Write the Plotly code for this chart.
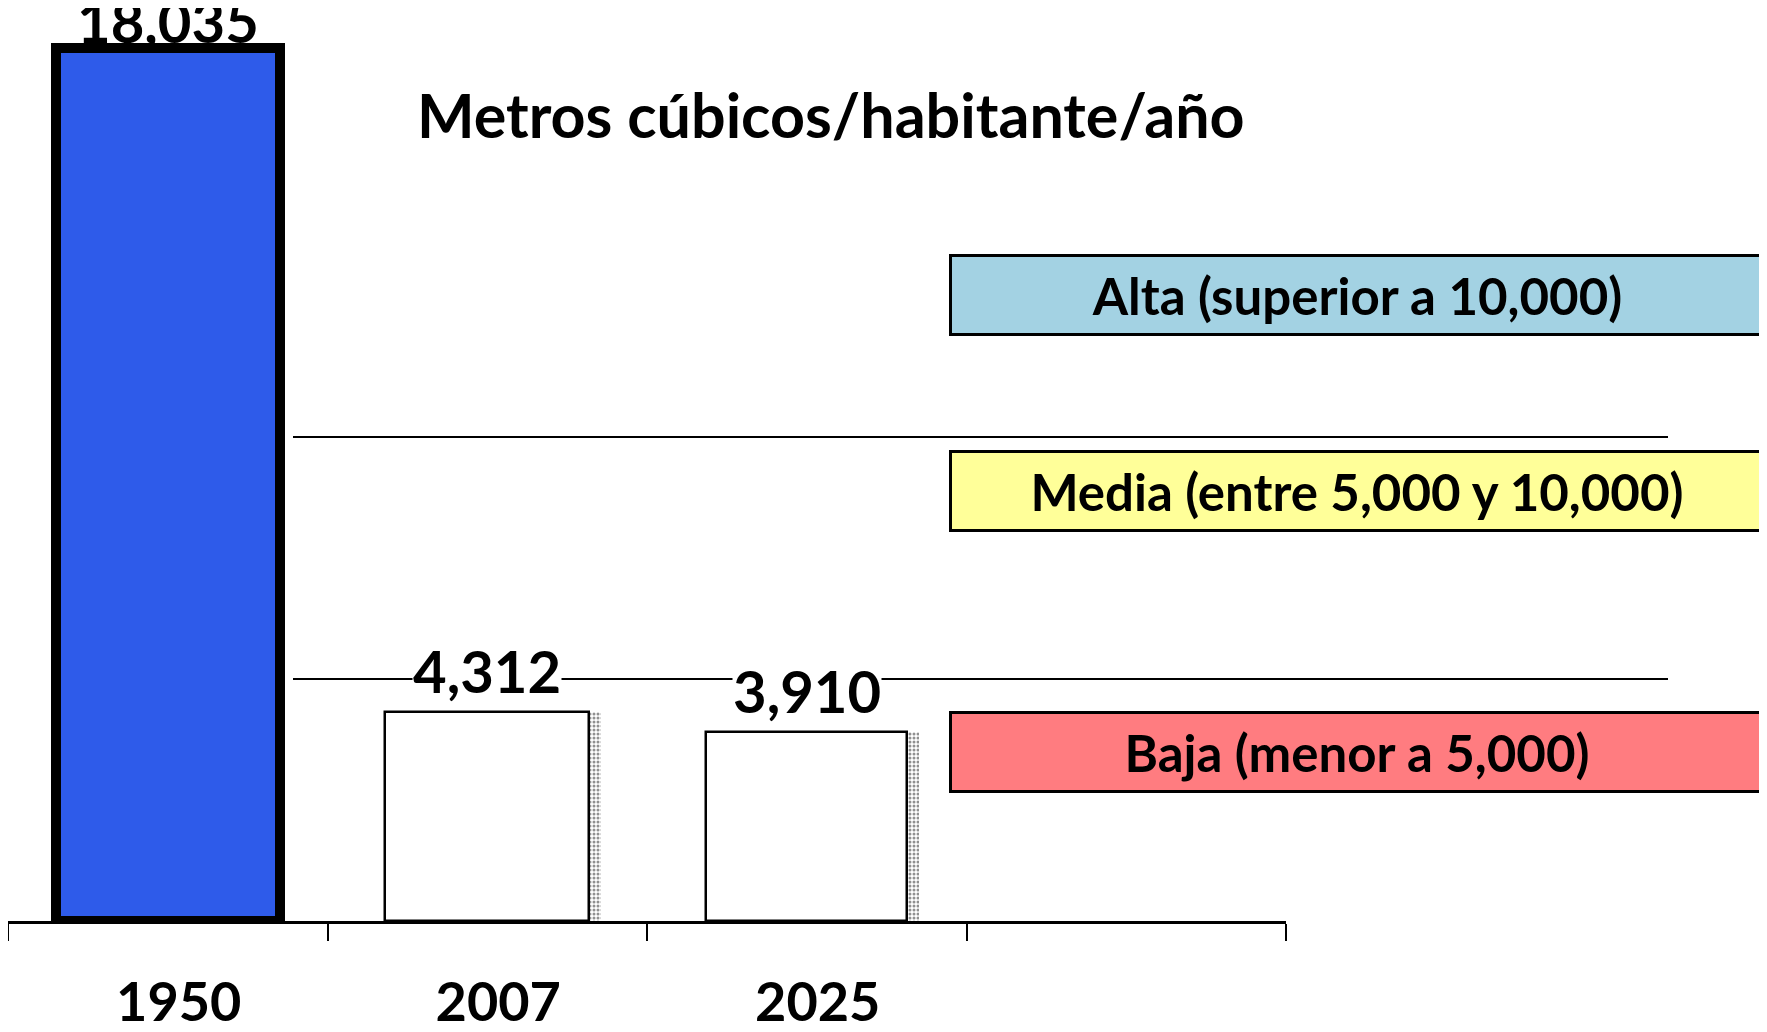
import plotly.graph_objects as go

## Datos
anios = ["1950", "2007", "2025"]
valores = [18035, 4312, 3910]          # m3 por habitante por año
etiquetas = ["18,035", "4,312", "3,910"]
umbrales = [10000, 5000]              # límites entre disponibilidad alta / media / baja
categorias = ["Alta (superior a 10,000)", "Media (entre 5,000 y 10,000)", "Baja (menor a 5,000)"]
colores_cat = ["#A3D2E3", "#FFFF99", "#FF7C80"]
titulo = "Metros cúbicos/habitante/año"
n_huecos = 4   # la escala deja un hueco vacío a la derecha

# la página añade 8 px de margen, así que la figura ocupa 1759x1024
W, H = 1759, 1024
ALTO_PLOT = 913
fuente = "Lato"

x = list(range(len(anios)))
anchos = [0.70, 0.64, 0.63]


def px(xp):   # coordenada horizontal de la página -> paper
    return (xp - 8) / W


def py(yp):   # coordenada vertical de la página -> paper
    return 1 - (yp - 8) / ALTO_PLOT


fig = go.Figure()

# sombra punteada de las barras blancas
fig.add_trace(go.Bar(
    x=x,
    y=valores,
    width=anchos,
    offset=[-a / 2 + 0.035 for a in anchos],
    marker=dict(
        color="white",
        line=dict(width=0),
        pattern=dict(shape=["", ".", "."], fgcolor="#222222", bgcolor="white",
                     size=4, solidity=0.45),
    ),
    showlegend=False,
    hoverinfo="skip",
))

fig.add_trace(go.Bar(
    x=x,
    y=valores,
    width=anchos,
    marker=dict(
        color=["#2E5BEA", "white", "white"],
        line=dict(color="black", width=[10, 2.5, 2.5]),
    ),
    showlegend=False,
    hoverinfo="skip",
))

# etiquetas de valor sobre las barras
desplaz = [-8, 6, 6]
fondos = ["rgba(0,0,0,0)", "white", "white"]
for xi, v, t, d, bg in zip(x, valores, etiquetas, desplaz, fondos):
    fig.add_annotation(
        x=xi, y=v, text="<b>%s</b>" % t,
        showarrow=False, xanchor="center", yanchor="bottom", yshift=d,
        font=dict(family=fuente, size=58, color="black"),
        bgcolor=bg, borderpad=0,
    )

# líneas de umbral
for u in umbrales:
    fig.add_shape(
        type="line", xref="paper", yref="y",
        x0=px(293), x1=px(1668), y0=u, y1=u,
        line=dict(color="black", width=2),
        layer="below",
    )

# cajas de categorías
pos_cajas = [295, 491, 752]
for txt, col, yc in zip(categorias, colores_cat, pos_cajas):
    fig.add_annotation(
        xref="paper", yref="paper",
        x=px(1357), y=py(yc),
        xanchor="center", yanchor="middle",
        text="<b>%s</b>" % txt,
        showarrow=False,
        width=808, height=74,
        bgcolor=col, bordercolor="black", borderwidth=3,
        font=dict(family=fuente, size=51, color="black"),
    )

fig.add_annotation(
    xref="paper", yref="paper",
    x=px(831), y=py(115),
    xanchor="center", yanchor="middle",
    text="<b>%s</b>" % titulo,
    showarrow=False,
    font=dict(family=fuente, size=61, color="black"),
)

fig.update_layout(
    width=W, height=H,
    margin=dict(l=0, r=0, t=0, b=H - ALTO_PLOT),
    paper_bgcolor="white",
    plot_bgcolor="white",
    barmode="overlay",
    bargap=0,
    xaxis=dict(
        domain=[0, px(1286)],
        range=[-0.5, n_huecos - 0.5],
        automargin=False,
        tickmode="array",
        tickvals=x,
        ticktext=["<b>%s</b>" % a for a in anios],
        ticks="",
        ticklabelstandoff=32,
        ticklabelshift=11,
        tickfont=dict(family=fuente, size=54, color="black"),
        showline=True, linecolor="black", linewidth=3,
        showgrid=False, zeroline=False,
        minor=dict(
            tickmode="array",
            tickvals=[i - 0.5 for i in range(n_huecos + 1)],
            ticks="outside", ticklen=17, tickwidth=2, tickcolor="black",
            showgrid=False,
        ),
    ),
    yaxis=dict(
        range=[0, 18860],
        visible=False,
        automargin=False,
        showgrid=False, zeroline=False,
    ),
)

fig.write_html("out.html")
